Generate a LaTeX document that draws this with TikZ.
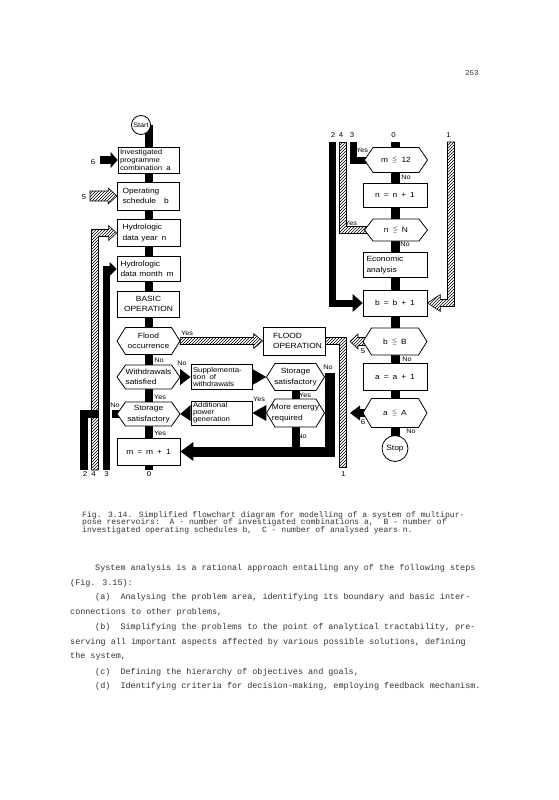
\documentclass[tikz,border=0pt]{standalone}
\usepackage{fontspec}
\usepackage{amssymb}
\setmainfont{Liberation Sans}
\newfontfamily\lett[FakeStretch=1.12]{Liberation Sans}
\newfontfamily\tw{Liberation Mono}
\usetikzlibrary{calc,patterns,arrows.meta}
\pgfdeclarelayer{background}
\pgfsetlayers{background,main}
\newcommand{\myhs}{\hspace{4pt}}
\newcommand{\myle}{\raisebox{1.2pt}{\fontsize{6}{6}\selectfont$\leqq$}}
\newcommand{\hexd}{8.5}
\newcommand{\hexnode}[7][]{%
  \path[hexline] ({#3-#5/2},#4) -- ({#3-#5/2+\hexd},{#4-#6/2}) -- ({#3+#5/2-\hexd},{#4-#6/2}) -- ({#3+#5/2},#4) -- ({#3+#5/2-\hexd},{#4+#6/2}) -- ({#3-#5/2+\hexd},{#4+#6/2}) -- cycle;
  \node[hexlabel, minimum width=#5pt, minimum height=#6pt, #1] (#2) at (#3,#4) {#7};}
\begin{document}
\begin{tikzpicture}[x=1pt,y=-1pt,
  box/.style={draw, fill=white, line width=0.8pt, inner sep=1.5pt, align=center, font=\lett\fontsize{7.5}{10.5}\selectfont},
  circ/.style={circle, draw, fill=white, line width=0.8pt, inner sep=0pt},
  hexline/.style={draw, fill=white, line width=0.8pt},
  hexlabel/.style={inner sep=0pt, align=center, font=\lett\fontsize{7.5}{10.5}\selectfont},
  bbar/.style={line width=8pt, line cap=butt, line join=miter},
  hatch/.style={draw, line width=0.6pt, pattern=north east lines},
  lab/.style={inner sep=0pt, font=\lett\fontsize{7}{8}\selectfont},
  yn/.style={inner sep=0pt, font=\lett\fontsize{6.5}{7}\selectfont},
  captext/.style={anchor=base west, inner sep=0pt, text=black!80, font=\tw\fontsize{8.1}{7.4}\selectfont},
  bodytext/.style={anchor=base west, inner sep=0pt, text=black!80, font=\tw\fontsize{8.45}{10}\selectfont}]
\useasboundingbox (0,0) rectangle (558,800);
\begin{pgfonlayer}{background}
\fill[white] (0,0) rectangle (558,800);
\end{pgfonlayer}

% page number
\node[anchor=base west, inner sep=0pt, text=black!80, font=\tw\fontsize{7.5}{8}\selectfont] (pg) at (465,75) {253};

% ---------- left column ----------
\node[circ, minimum size=19pt, font=\lett\fontsize{6.5}{7}\selectfont] (start) at (141,125) {Start};
\node[box, minimum width=61pt, minimum height=26pt, text width=57pt, align=left, font=\lett\fontsize{7}{7.6}\selectfont] (b1) at (148.5,160) {Investigated\\programme\\combination\myhs a};
\node[box, minimum width=62pt, minimum height=28pt, text width=52pt, align=left, font=\lett\fontsize{7.5}{9.5}\selectfont] (b2) at (148.5,196) {Operating\\schedule\hspace{8pt}b};
\node[box, minimum width=63pt, minimum height=27pt, text width=52pt, align=left] (b3) at (148.5,233) {Hydrologic\\data year\myhs n};
\node[box, minimum width=63pt, minimum height=25pt, text width=56pt, align=left] (b4) at (148.5,269) {Hydrologic\\data month\myhs m};
\node[box, minimum width=62pt, minimum height=26pt] (b5) at (148.5,304) {BASIC\\OPERATION};
\hexnode{fl}{148.5}{341}{63}{27}{Flood\\occurrence}
\hexnode[align=left]{wd}{148.5}{377}{63}{24}{Withdrawals\\satisfied}
\hexnode{ls}{148.5}{414}{63}{24}{Storage\\satisfactory}
\node[box, minimum width=63pt, minimum height=27pt] (mm) at (148.5,451.5) {m\myhs=\myhs m\myhs+\myhs 1};

% ---------- middle ----------
\node[box, minimum width=61pt, minimum height=25pt, text width=57pt, align=left, font=\lett\fontsize{7}{7.2}\selectfont] (sp) at (221.5,377) {Supplementa-\\tion\myhs of\\withdrawals};
\node[box, minimum width=61pt, minimum height=24pt, text width=57pt, align=left, font=\lett\fontsize{7}{6.9}\selectfont] (ap) at (221.5,413) {Additional\\power\\generation};
\node[box, minimum width=62pt, minimum height=28pt, text width=42pt, align=left] (fo) at (294,341) {FLOOD\\OPERATION};
\hexnode{ms}{295.5}{377}{58}{27}{Storage\\satisfactory}
\hexnode[align=left]{me}{295.5}{413}{58}{28}{More energy\\required}

% ---------- right column ----------
\hexnode{m12}{396}{160}{63}{25}{m\myhs\myle\myhs 12}
\node[box, minimum width=64pt, minimum height=24pt] (nn) at (395,195) {n\myhs=\myhs n\myhs+\myhs 1};
\hexnode{nN}{396}{230}{63}{22}{n\myhs\myle\myhs N}
\node[box, minimum width=64pt, minimum height=25pt, text width=57pt, align=left] (ec) at (395,265) {Economic\\analysis};
\node[box, minimum width=64pt, minimum height=26pt] (bb) at (395,303) {b\myhs=\myhs b\myhs+\myhs 1};
\hexnode{bB}{395}{341.5}{64}{27}{b\myhs\myle\myhs B}
\node[box, minimum width=64pt, minimum height=27pt] (aa) at (395,377) {a\myhs=\myhs a\myhs+\myhs 1};
\hexnode{aA}{395}{413}{64}{29}{a\myhs\myle\myhs A}
\node[circ, minimum size=26pt, font=\lett\fontsize{7.5}{8}\selectfont] (stop) at (395,448.5) {Stop};

% ---------- free ends ----------
\coordinate (L0) at (148.5,470);
\coordinate (L2) at (84,470);
\coordinate (L4) at (95,470);
\coordinate (L3) at (106.5,470);
\coordinate (L1) at (343,467);
\coordinate (R0) at (395,142);
\coordinate (R2) at (332,142);
\coordinate (R4) at (343,142);
\coordinate (R3) at (353.5,142);
\coordinate (R1) at (451,142);
\coordinate (T6) at (100,160);
\coordinate (T5) at (90,196);
\coordinate (T5r) at (350,341.5);
\coordinate (T6r) at (350,413);

% ---------- connectors ----------
\begin{pgfonlayer}{background}
\draw[bbar] (start.center -| b1.north) -- (L0);
\draw[bbar, line width=9pt] (R0) -- (stop.center);
\draw[bbar, -{Triangle[length=7pt,width=16pt,line width=0pt]}] (T6) -- (b1.west);
\path[hatch] ($(T5)+(0,-5)$) -- ($(b2.west)+(-9,-5)$) -- ++(0,-3) -- (b2.west) -- ($(b2.west)+(-9,8)$) -- ++(0,-3) -- ($(T5)+(0,5)$) -- cycle;
\draw[bbar] ($(ls.west)+(4,0)$) -| (L2);
\draw[white, line width=12pt] ($(ls.west -| L4)+(3.5,0)$) -- ($(ls.west -| L3)+(5,0)$);
\path[hatch] ($(L4)+(-3.5,0)$) |- ($(b3.west)+(-8,-3.5)$) -- ++(0,-4) -- (b3.west) -- ($(b3.west)+(-8,7.5)$) -- ++(0,-4) -| ($(L4)+(3.5,0)$) -- cycle;
\draw[bbar, line width=7pt, -{Triangle[length=7pt,width=14pt,line width=0pt]}] (L3) |- (b4.west);
\path[hatch] ($(fl.east)+(0,-3.5)$) -- ($(fo.west)+(-9,-3.5)$) -- ++(0,-4) -- (fo.west) -- ($(fo.west)+(-9,7.5)$) -- ++(0,-4) -- ($(fl.east)+(0,3.5)$) -- cycle;
\path[hatch] ($(fo.east)+(0,-3.5)$) -| ($(L1)+(3.5,0)$) -- ($(L1)+(-3.5,0)$) |- ($(fo.east)+(0,3.5)$) -- cycle;
\fill ($(wd.east)+(0,-8)$) -- (sp.west) -- ($(wd.east)+(0,8)$) -- cycle;
\fill ($(sp.east)+(0,-8)$) -- (ms.west) -- ($(sp.east)+(0,8)$) -- cycle;
\fill ($(me.west)+(0,-8)$) -- (ap.east) -- ($(me.west)+(0,8)$) -- cycle;
\fill ($(ap.west)+(0,-8)$) -- (ls.east) -- ($(ap.west)+(0,8)$) -- cycle;
\draw[bbar] (ms.south) -- (me.north);
\draw[bbar, line width=10pt, -{Triangle[length=13pt,width=19pt,line width=0pt]}] ($(ms.east)+(5,-4)$) |- (mm.east);
\draw[bbar] (me.south) -- (me.south |- mm.east);
\draw[bbar, line width=7pt, -{Triangle[length=10pt,width=18pt,line width=0pt]}] (R2) |- (bb.west);
\draw[bbar, line width=7pt] (R3) |- ($(m12.west)+(4,0)$);
\path[hatch] ($(R4)+(-3.5,0)$) |- ($(nN.west)+(4,3.5)$) -- ($(nN.west)+(4,-3.5)$) -| ($(R4)+(3.5,0)$) -- cycle;
\path[hatch] ($(R1)+(3.5,0)$) |- ($(bb.east)+(13,3.5)$) -- ++(0,5) -- (bb.east) -- ($(bb.east)+(13,-8.5)$) -- ++(0,5) -| ($(R1)+(-3.5,0)$) -- cycle;
\path[hatch] ($(bB.west)+(3,-4)$) -- ($(T5r)+(8,-4)$) -- ++(0,-3.5) -- (T5r) -- ($(T5r)+(8,7.5)$) -- ++(0,-3.5) -- ($(bB.west)+(3,4)$) -- cycle;
\draw[bbar, -{Triangle[length=10pt,width=15pt,line width=0pt]}] ($(aA.west)+(4,0)$) -- (T6r);
\end{pgfonlayer}

% ---------- labels ----------
\node[lab] (l6) at (93,162) {6};
\node[lab] (l5) at (84,197) {5};
\node[lab] (lb2) at (85,474.5) {2};
\node[lab] (lb4) at (93.5,474.5) {4};
\node[lab] (lb3) at (106.5,474.5) {3};
\node[lab] (lb0) at (149,474.5) {0};
\node[lab] (lb1) at (343.5,474) {1};
\node[lab] (lt2) at (333,135) {2};
\node[lab] (lt4) at (341,135) {4};
\node[lab] (lt3) at (352,135) {3};
\node[lab] (lt0) at (393.5,135) {0};
\node[lab] (lt1) at (448.5,135) {1};
\node[lab] (l5r) at (363,351) {5};
\node[lab] (l6r) at (363,422) {6};

\node[yn] (y1) at (187,333) {Yes};
\node[yn] (y2) at (362,150) {Yes};
\node[yn] (y3) at (351,223) {Yes};
\node[yn] (y4) at (160,397) {Yes};
\node[yn] (y5) at (160,433.5) {Yes};
\node[yn] (y6) at (305,395.5) {Yes};
\node[yn] (y7) at (259,399) {Yes};
\node[yn] (n1) at (159,360) {No};
\node[yn] (n2) at (182,363) {No};
\node[yn] (n3) at (115,405) {No};
\node[yn] (n4) at (328,367) {No};
\node[yn] (n5) at (302,436) {No};
\node[yn] (n6) at (406,177) {No};
\node[yn] (n7) at (405,244) {No};
\node[yn] (n8) at (407,359) {No};
\node[yn] (n9) at (411,431) {No};

% ---------- caption ----------
\node[captext] (cap1) at (82,517) {Fig. 3.14. Simplified flowchart diagram for modelling of a system of multipur-};
\node[captext] (cap2) at (82,524.5) {pose reservoirs:\ \ A - number of investigated combinations a,\ \ B - number of};
\node[captext] (cap3) at (82,532) {investigated operating schedules b,\ \ C - number of analysed years n.};

% ---------- body text ----------
\node[bodytext] (t1) at (95,570.5) {System analysis is a rational approach entailing any of the following steps};
\node[bodytext] (t2) at (70,585.2) {(Fig. 3.15):};
\node[bodytext] (t3) at (95,599.9) {(a)\ \ Analysing the problem area, identifying its boundary and basic inter-};
\node[bodytext] (t4) at (70,614.6) {connections to other problems,};
\node[bodytext] (t5) at (95,629.3) {(b)\ \ Simplifying the problems to the point of analytical tractability, pre-};
\node[bodytext] (t6) at (70,644.5) {serving all important aspects affected by various possible solutions, defining};
\node[bodytext] (t7) at (70,658) {the system,};
\node[bodytext] (t8) at (95,674) {(c)\ \ Defining the hierarchy of objectives and goals,};
\node[bodytext] (t9) at (95,688.8) {(d)\ \ Identifying criteria for decision-making, employing feedback mechanism.};
\end{tikzpicture}
\end{document}
